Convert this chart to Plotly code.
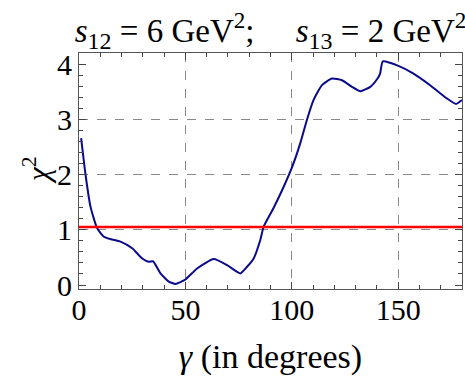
import plotly.graph_objects as go

gamma_deg = [1, 3, 5.4, 8.5, 11.7, 15, 19.5, 25, 29.7, 32.8, 34.8, 38.3, 42.2, 45.3, 50,
             55.5, 63.3, 69.6, 75.8, 79, 82.1, 85.2, 86.8, 91.5, 96.2, 100, 104, 107.1, 110.2,
             114.2, 118.9, 123.6, 128.3, 132.2, 136.9, 140.3, 141.5, 142.8, 150.1, 157.2, 165,
             172.9, 177.2, 180]
chi2 = [2.66, 2.02, 1.42, 1.03, 0.875, 0.83, 0.785, 0.665, 0.48, 0.42, 0.43, 0.21, 0.06, 0.02, 0.10,
        0.30, 0.47, 0.36, 0.21, 0.33, 0.48, 0.815, 1.06, 1.40, 1.78, 2.12, 2.57, 2.99, 3.35,
        3.62, 3.74, 3.71, 3.59, 3.51, 3.59, 3.74, 3.83, 4.05, 3.97, 3.83, 3.62,
        3.38, 3.28, 3.35]
threshold = 1.05
x_ticks = [0, 50, 100, 150]
y_ticks = [0, 1, 2, 3, 4]
x_grid = [50, 100, 150]
y_grid = [1, 2, 3]
x_range = [0, 180]
y_range = [-0.0725, 4.203]

FONT = "Liberation Serif"

fig = go.Figure()
fig.add_trace(go.Scatter(x=x_range, y=y_range, mode="markers", marker=dict(opacity=0),
                         xaxis="x2", yaxis="y2", showlegend=False, hoverinfo="skip"))
fig.add_trace(go.Scatter(x=gamma_deg, y=chi2, mode="lines",
                         line=dict(color="#0a0a8c", width=2, shape="spline", smoothing=0.5),
                         showlegend=False, hoverinfo="skip"))
fig.add_trace(go.Scatter(x=x_range, y=[threshold, threshold], mode="lines",
                         line=dict(color="#ff0000", width=2.5),
                         showlegend=False, hoverinfo="skip"))

axis_common = dict(showline=True, linecolor="#555555", linewidth=1, mirror="ticks",
                   ticks="inside", ticklen=7, tickwidth=1, tickcolor="#444444",
                   showgrid=False, zeroline=False, automargin=False,
                   tickfont=dict(family=FONT, size=30, color="black"))

sub = '<sub><span style="font-size:24px">{}</span></sub>'
title_text = ("<i>s</i>" + sub.format("12") + " = 6 GeV<sup>2</sup>;" + "&nbsp;" * 5 +
              "<i>s</i>" + sub.format("13") + " = 2 GeV<sup>2</sup>")

fig.update_layout(
    width=465, height=376,
    margin=dict(l=79, r=3, t=53, b=87),
    plot_bgcolor="white", paper_bgcolor="white",
    title=dict(text=title_text,
               xref="paper", x=0.5, xanchor="center", y=0.92, yanchor="middle",
               font=dict(family=FONT, size=33, color="black")),
    xaxis=dict(range=x_range, tickvals=x_ticks, ticklabelstandoff=-6,
               minor=dict(dtick=10, ticks="inside", ticklen=4, tickcolor="#444444"),
               title=dict(text="<i>γ</i> (in degrees)", font=dict(family=FONT, size=34, color="black"),
                          standoff=21),
               **axis_common),
    yaxis=dict(range=y_range, tickvals=y_ticks,
               minor=dict(dtick=0.2, ticks="inside", ticklen=4, tickcolor="#444444"),
               **axis_common),
    xaxis2=dict(range=x_range, overlaying="x", tickvals=x_grid, showticklabels=False,
                ticks="", showgrid=True, gridcolor="#888888", griddash="dash", gridwidth=1,
                zeroline=False, showline=False),
    yaxis2=dict(range=y_range, overlaying="y", tickvals=y_grid, showticklabels=False,
                ticks="", showgrid=True, gridcolor="#888888", griddash="dash", gridwidth=1,
                zeroline=False, showline=False),
    annotations=[dict(text="<i>χ</i><sup>2</sup>", xref="paper", yref="paper", x=0, y=0.5,
                      xanchor="center", yanchor="middle", xshift=-43, textangle=-90,
                      showarrow=False, font=dict(family=FONT, size=31, color="black"))],
)

fig.write_html("out.html", config={"displayModeBar": False},
               post_script="document.body.style.margin='0px';")
